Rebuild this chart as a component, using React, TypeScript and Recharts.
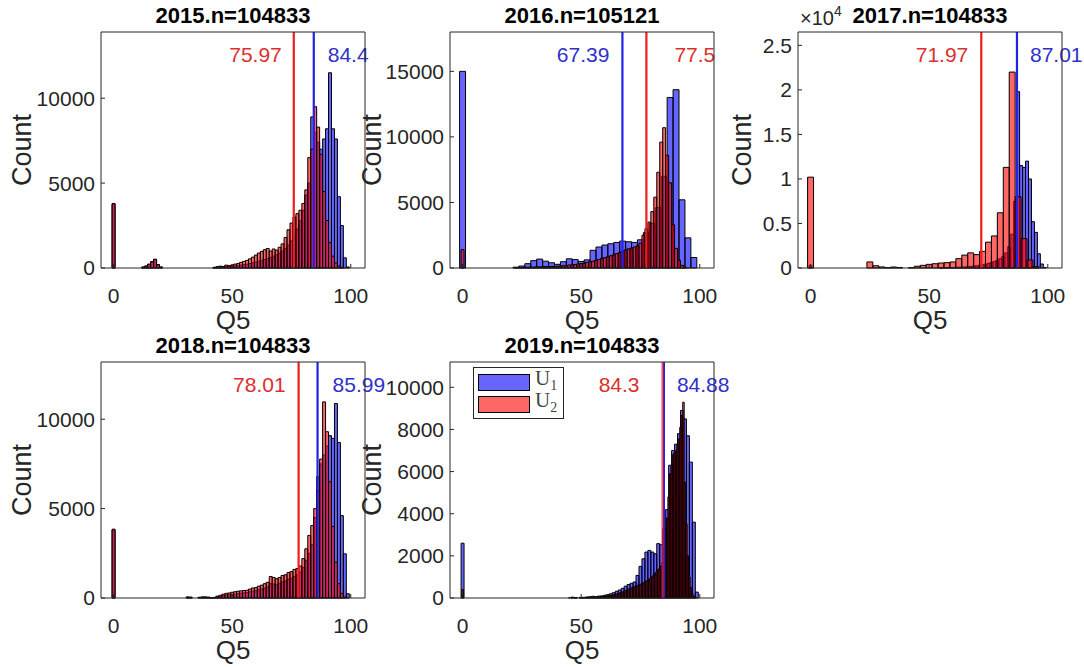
import React from 'react';
import {
  ComposedChart, XAxis, YAxis, ReferenceArea, ReferenceLine, Legend,
} from 'recharts';

// ---------- data ----------
const YEARS = ['2015', '2016', '2017', '2018', '2019'];
const SAMPLE_N = [104833, 105121, 104833, 104833, 104833];
const SERIES = ['U1', 'U2'];
const MEAN_U1 = [84.4, 67.39, 87.01, 85.99, 84.88];
const MEAN_U2 = [75.97, 77.5, 71.97, 78.01, 84.3];
const X_LABEL = 'Q5';
const Y_LABEL = 'Count';
const X_DOMAIN: [number, number] = [-5.3, 106];
const X_TICKS = [0, 50, 100];
const Y_MAX = [13900, 18000, 26500, 13200, 11200];
const Y_TICKS = [
  [0, 5000, 10000],
  [0, 5000, 10000, 15000],
  [0, 5000, 10000, 15000, 20000, 25000],
  [0, 5000, 10000],
  [0, 2000, 4000, 6000, 8000, 10000],
];

// bin widths in Q5 units; counts start with the bin centred on 0
const BIN_W_U1 = [1.25, 2.5, 1.25, 1.25, 1.25];
const BIN_W_U2 = [1.25, 1.25, 2.5, 1.25, 0.625];

const U1_2015 = [
  3750, 0, 0, 0, 0, 0, 0, 0, 0, 0,
  50, 110, 210, 350, 480, 180, 50, 0, 0, 0,
  0, 0, 0, 0, 0, 0, 0, 0, 0, 0,
  0, 0, 0, 0, 20, 40, 60, 50, 90, 80,
  100, 120, 140, 170, 200, 230, 270, 310, 360, 400,
  450, 500, 560, 620, 700, 780, 880, 1000, 1150, 1350,
  1600, 1900, 2300, 2800, 3400, 4300, 5000, 8900, 8000, 7400,
  7000, 7600, 8200, 11500, 8200, 7600, 4200, 2500, 600, 60,
  0,
];
const U2_2015 = [
  3800, 0, 0, 0, 0, 0, 0, 0, 0, 0,
  60, 120, 230, 380, 520, 200, 60, 0, 0, 0,
  0, 0, 0, 0, 0, 0, 0, 0, 0, 0,
  0, 0, 0, 0, 40, 80, 110, 90, 170, 140,
  180, 230, 260, 330, 390, 450, 540, 640, 760, 880,
  980, 1080, 1150, 1000, 1120, 1050, 1220, 1420, 1800, 2250,
  2650, 3000, 3200, 3400, 3800, 4600, 6500, 7000, 9500, 8300,
  6700, 4500, 2800, 1500, 700, 300, 120, 40, 0, 0,
  0,
];
const U1_2016 = [
  15000, 0, 0, 0, 0, 0, 0, 0, 0, 60,
  150, 330, 560, 680, 520, 400, 280, 480, 700, 640,
  500, 620, 1350, 1600, 1750, 1850, 1950, 2050, 2000, 1950,
  2150, 2700, 3400, 4600, 7000, 13000, 13600, 5200, 2300, 800,
  0,
];
const U2_2016 = [
  1400, 0, 0, 0, 0, 0, 0, 0, 0, 0,
  0, 0, 0, 0, 0, 0, 0, 0, 30, 45,
  40, 65, 55, 75, 70, 95, 85, 100, 110, 105,
  120, 115, 140, 145, 175, 185, 230, 235, 270, 310,
  340, 370, 430, 480, 520, 580, 650, 730, 790, 850,
  930, 1010, 1100, 1170, 1280, 1390, 1460, 1520, 1600, 1690,
  1900, 2500, 3000, 3500, 4300, 5400, 7300, 9600, 10700, 8600,
  6500, 3300, 1500, 600, 200, 60, 0, 0, 0, 0,
  0,
];
const U1_2017 = [
  300, 0, 0, 0, 0, 0, 0, 0, 0, 0,
  0, 0, 0, 0, 0, 0, 0, 0, 0, 0,
  0, 0, 0, 0, 0, 0, 0, 0, 0, 0,
  0, 0, 0, 0, 0, 0, 0, 0, 0, 0,
  0, 0, 0, 0, 20, 30, 40, 50, 60, 70,
  90, 100, 120, 150, 180, 220, 260, 310, 370, 440,
  520, 620, 740, 880, 1050, 1300, 1700, 2400, 3800, 7500,
  19800, 11500, 11300, 12000, 10000, 5200, 4000, 1600, 450, 50,
  0,
];
const U2_2017 = [
  10200, 0, 0, 0, 0, 0, 0, 0, 0, 0,
  680, 250, 120, 40, 110, 60, 0, 40, 200, 300,
  410, 480, 560, 600, 680, 1050, 1450, 1700, 1500, 1870,
  2900, 3600, 6200, 11300, 22000, 8000, 3300, 900, 150, 0,
  0,
];
const U1_2018 = [
  3800, 0, 0, 0, 0, 0, 0, 0, 0, 0,
  0, 0, 0, 0, 0, 0, 0, 0, 0, 0,
  0, 0, 0, 0, 0, 40, 30, 0, 0, 30,
  40, 40, 30, 10, 20, 60, 90, 130, 160, 180,
  200, 220, 250, 270, 290, 300, 350, 390, 410, 460,
  500, 560, 620, 800, 780, 760, 820, 900, 950, 1050,
  1100, 1200, 1300, 1450, 1700, 2100, 2500, 3000, 4500, 6800,
  7500, 8000, 8500, 9080, 8930, 10880, 8700, 4610, 2470, 240,
  0,
];
const U2_2018 = [
  3850, 0, 0, 0, 0, 0, 0, 0, 0, 0,
  0, 0, 0, 0, 0, 0, 0, 0, 0, 0,
  0, 0, 0, 0, 0, 60, 50, 0, 0, 40,
  60, 60, 50, 20, 30, 100, 150, 210, 260, 280,
  320, 350, 380, 400, 420, 430, 500, 560, 580, 660,
  720, 800, 880, 1200, 1150, 1080, 1150, 1260, 1300, 1420,
  1480, 1600, 1650, 1790, 2200, 2750, 3500, 4050, 5000, 6000,
  7770, 10970, 9300, 6500, 4000, 2000, 800, 250, 50, 0,
  0,
];
const U1_2019 = [
  2600, 0, 0, 0, 0, 0, 0, 0, 0, 0,
  0, 0, 0, 0, 0, 0, 0, 0, 0, 0,
  0, 0, 0, 0, 0, 0, 0, 0, 0, 0,
  0, 0, 0, 0, 0, 0, 0, 40, 20, 0,
  30, 30, 50, 60, 80, 60, 90, 100, 130, 160,
  200, 250, 320, 380, 460, 560, 640, 700, 760, 1070,
  1500, 1860, 2180, 2260, 2180, 2100, 2580, 2530, 3300, 4200,
  6300, 7000, 7300, 7800, 8900, 8500, 7700, 6450, 3600, 280,
  0,
];
// U2 2019 uses very fine bins: one spike at 0, then a run starting at 45
const U2_2019_AT_0 = 400;
const U2_2019_FROM = 45;
const U2_2019 = [
  10, 0, 15, 0, 10, 20, 0, 15,
  20, 10, 25, 15, 30, 20, 35, 25,
  40, 30, 45, 50, 40, 60, 70, 55,
  80, 90, 100, 110, 120, 140, 150, 170,
  190, 210, 230, 260, 290, 320, 350, 380,
  420, 450, 480, 510, 540, 570, 600, 620,
  650, 690, 720, 760, 800, 850, 900, 960,
  1020, 1100, 1180, 1260, 1350, 1430, 1520, 1700,
  2600, 3300, 3800, 4800, 5900, 6300, 6800, 6900,
  7000, 7300, 7550, 8100, 8660, 9290, 5500, 3500,
  2000, 1000, 500, 200, 80, 20, 0,
];

// ---------- look ----------
const FONT = '"Liberation Sans", Arial, Helvetica, sans-serif';
const SERIF = '"Liberation Serif", "DejaVu Serif", "Times New Roman", serif';
const INK = '#262626';
const U1_FILL = '#0000ff';
const U2_FILL = '#ff0000';
const U1_LINE = '#2222e6';
const U2_LINE = '#ee1c1c';
const U1_TEXT = '#3030c8';
const U2_TEXT = '#dc2f2f';

const PAGE_W = 1084;
const PAGE_H = 667;
const BOX_LEFT = [101, 450, 798, 101, 450];
const BOX_TOP = [32, 32, 32, 362, 362];
const BOX_W = 264;
const BOX_H = 236;
const PAD_L = 100;
const PAD_T = 32;
const PAD_R = 46;
const PAD_B = 70;
const COUNT_DX = [79, 78, 56, 79, 78];
const GAP_LO = [12, 13, 13, 13, 23];
const GAP_HI = [14, 28, 13, 15, 13];

type Bin = { lo: number; hi: number; count: number };

function toBins(counts: number[], width: number, firstCenter = 0): Bin[] {
  return counts
    .map((count, i) => {
      const c = firstCenter + i * width;
      return { lo: c - width / 2, hi: c + width / 2, count };
    })
    .filter((b) => b.count > 0);
}

const U1_COUNTS = [U1_2015, U1_2016, U1_2017, U1_2018, U1_2019];
const U2_COUNTS = [U2_2015, U2_2016, U2_2017, U2_2018];

const U1_BINS = U1_COUNTS.map((c, p) => toBins(c, BIN_W_U1[p]));
const U2_BINS = [
  ...U2_COUNTS.map((c, p) => toBins(c, BIN_W_U2[p])),
  [...toBins([U2_2019_AT_0], BIN_W_U2[4]), ...toBins(U2_2019, BIN_W_U2[4], U2_2019_FROM)],
];

function meanLabel(text: string, color: string, low: boolean, gap: number) {
  return (props: any) => {
    const vb = props.viewBox || {};
    return (
      <text
        x={low ? vb.x - gap : vb.x + gap}
        y={vb.y + 22}
        textAnchor={low ? 'end' : 'start'}
        dominantBaseline="central"
        fill={color}
        fontSize={21}
        fontFamily={FONT}
      >
        {text}
      </text>
    );
  };
}

function SeriesKey() {
  const fills = ['rgba(0,0,255,0.6)', 'rgba(255,0,0,0.6)'];
  return (
    <div style={{ border: `1px solid ${INK}`, background: '#fff', padding: '3px 6px 3px 4px', color: '#444' }}>
      {SERIES.map((name, i) => (
        <div key={name} style={{ display: 'flex', alignItems: 'center', height: 22 }}>
          <span style={{ display: 'inline-block', width: 50, height: 15, background: fills[i], border: '1px solid #000' }} />
          <span style={{ marginLeft: 5, fontFamily: SERIF, fontSize: 21, color: '#444', lineHeight: '20px' }}>
            {name[0]}
            <sub style={{ fontSize: 14, color: '#444' }}>{name.slice(1)}</sub>
          </span>
        </div>
      ))}
    </div>
  );
}

function Panel({ p }: { p: number }) {
  const tickStyle = { fill: INK, fontSize: 21, fontFamily: FONT };
  const u1Low = MEAN_U1[p] < MEAN_U2[p];
  const scaled = p === 2;
  const padR = Math.min(PAD_R, PAGE_W - BOX_LEFT[p] - BOX_W);
  // the chart rows are the U1 bins; every bar itself is drawn as a ReferenceArea
  const rows = U1_BINS[p].map((b) => ({ x: (b.lo + b.hi) / 2, count: b.count }));

  return (
    <div style={{ position: 'absolute', left: BOX_LEFT[p] - PAD_L, top: BOX_TOP[p] - PAD_T }}>
      <ComposedChart
        width={PAD_L + BOX_W + padR}
        height={PAD_T + BOX_H + PAD_B}
        data={rows}
        margin={{ top: PAD_T - 1, right: padR - 1, bottom: 0, left: 0 }}
      >
        <XAxis
          dataKey="x"
          type="number"
          domain={X_DOMAIN}
          ticks={X_TICKS}
          interval={0}
          allowDataOverflow
          height={PAD_B}
          tickSize={-4}
          tickMargin={24}
          tick={tickStyle}
          axisLine={{ stroke: INK }}
          tickLine={{ stroke: INK }}
          label={(props: any) => {
            const vb = props.viewBox || {};
            return (
              <text x={vb.x + vb.width / 2} y={vb.y + 52} textAnchor="middle" dominantBaseline="central"
                fill={INK} fontSize={26} fontFamily={FONT}>{X_LABEL}</text>
            );
          }}
        />
        <XAxis
          xAxisId="top"
          orientation="top"
          dataKey="x"
          type="number"
          domain={X_DOMAIN}
          ticks={X_TICKS}
          interval={0}
          allowDataOverflow
          height={1}
          tickSize={-4}
          tick={false}
          axisLine={{ stroke: INK }}
          tickLine={{ stroke: INK }}
          label={(props: any) => {
            const vb = props.viewBox || {};
            return (
              <text x={vb.x + vb.width / 2} y={vb.y + vb.height - 17} textAnchor="middle" dominantBaseline="central"
                fill="#000" fontSize={22} fontWeight="bold" fontFamily={FONT}>
                {`${YEARS[p]}.n=${SAMPLE_N[p]}`}
              </text>
            );
          }}
        />
        <YAxis
          type="number"
          domain={[0, Y_MAX[p]]}
          ticks={Y_TICKS[p]}
          interval={0}
          allowDataOverflow
          width={PAD_L}
          tickSize={-4}
          tickMargin={10}
          tick={tickStyle}
          tickFormatter={scaled ? (v: number) => String(v / 1e4) : undefined}
          axisLine={{ stroke: INK }}
          tickLine={{ stroke: INK }}
          label={(props: any) => {
            const vb = props.viewBox || {};
            const cx = vb.x + vb.width - COUNT_DX[p];
            const cy = vb.y + vb.height / 2;
            return (
              <g>
                <text x={cx} y={cy} transform={`rotate(-90 ${cx} ${cy})`} textAnchor="middle"
                  dominantBaseline="central" fill={INK} fontSize={27} fontFamily={FONT}>{Y_LABEL}</text>
                {scaled && (
                  <text x={vb.x + vb.width + 2} y={vb.y - 7} fill={INK} fontSize={20} fontFamily={FONT}>
                    ×10<tspan dy={-9} fontSize={14}>4</tspan>
                  </text>
                )}
              </g>
            );
          }}
        />
        <YAxis
          yAxisId="right"
          orientation="right"
          type="number"
          domain={[0, Y_MAX[p]]}
          ticks={Y_TICKS[p]}
          interval={0}
          allowDataOverflow
          width={1}
          tickSize={-4}
          tick={false}
          axisLine={{ stroke: INK }}
          tickLine={{ stroke: INK }}
        />

        {U1_BINS[p].map((b, i) => (
          <ReferenceArea key={`u1-${i}`} x1={b.lo} x2={b.hi} y1={0} y2={b.count}
            fill={U1_FILL} fillOpacity={0.6} stroke="#000" strokeWidth={1} />
        ))}
        {U2_BINS[p].map((b, i) => (
          <ReferenceArea key={`u2-${i}`} x1={b.lo} x2={b.hi} y1={0} y2={b.count}
            fill={U2_FILL} fillOpacity={0.6} stroke="#000" strokeWidth={1} />
        ))}

        <ReferenceLine x={MEAN_U1[p]} stroke={U1_LINE} strokeWidth={2.2}
          label={meanLabel(String(MEAN_U1[p]), U1_TEXT, u1Low, u1Low ? GAP_LO[p] : GAP_HI[p])} />
        <ReferenceLine x={MEAN_U2[p]} stroke={U2_LINE} strokeWidth={2.2} strokeOpacity={p === 4 ? 0.7 : 1}
          label={meanLabel(String(MEAN_U2[p]), U2_TEXT, !u1Low, !u1Low ? GAP_LO[p] : GAP_HI[p])} />

        {p === 4 && (
          <Legend
            layout="vertical"
            align="center"
            verticalAlign="middle"
            wrapperStyle={{ left: 123, top: 37, width: 'auto', height: 'auto' }}
            content={() => <SeriesKey />}
          />
        )}
      </ComposedChart>
    </div>
  );
}

export default function App() {
  return (
    <div style={{ position: 'fixed', left: 0, top: 0, width: PAGE_W, height: PAGE_H, background: '#fff', overflow: 'hidden' }}>
      {YEARS.map((y, p) => (
        <Panel key={y} p={p} />
      ))}
    </div>
  );
}
